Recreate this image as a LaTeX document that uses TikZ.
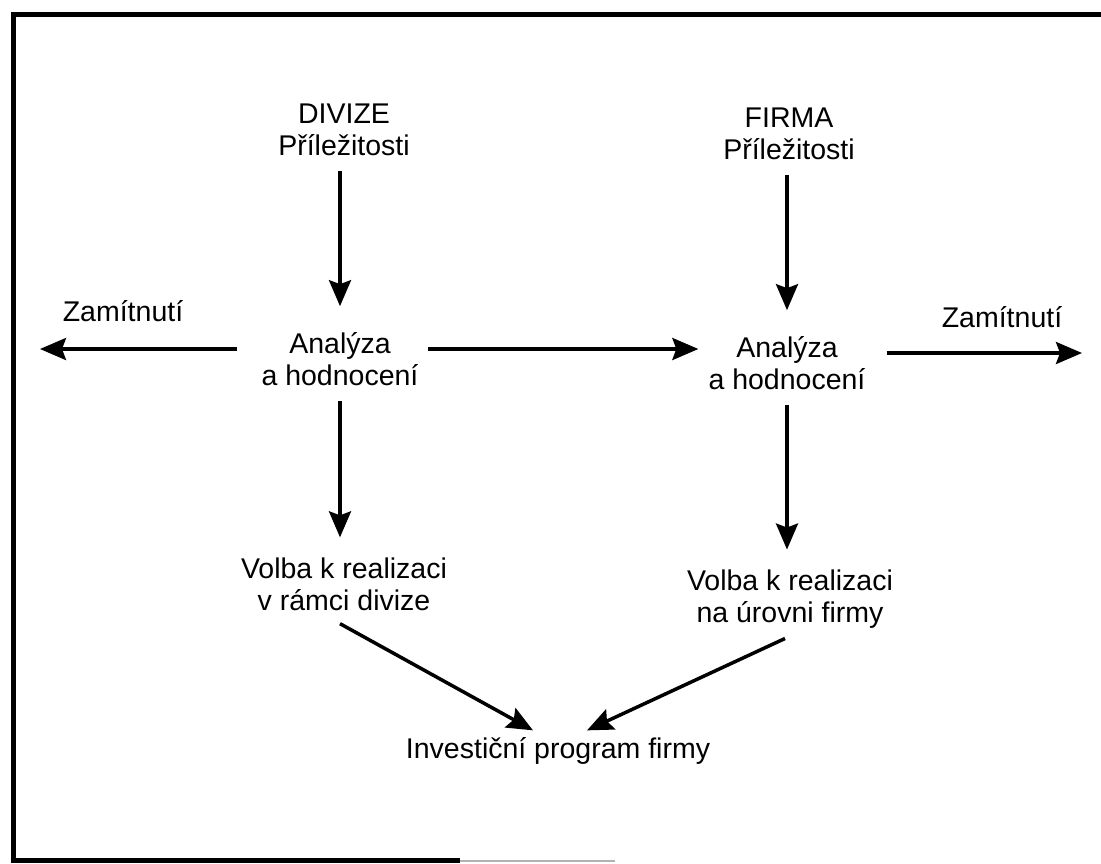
\documentclass[tikz,border=0pt]{standalone}
\usepackage{fontspec}
\setmainfont{Liberation Sans}
\usetikzlibrary{arrows.meta}

\begin{document}
\begin{tikzpicture}[x=1pt,y=-1pt,
  lbl/.style={align=center,inner sep=0pt,font=\fontsize{28.5}{32}\selectfont},
  arr/.style={line width=3.5pt,-{Stealth[length=26pt,width=22pt,inset=4pt]}}]
\useasboundingbox (0,0) rectangle (1101,863);

% frame
\draw[line width=5pt] (1101,14) -- (13,14) -- (13,860) -- (460,860);
\draw[line width=2.5pt,gray!60] (460,861) -- (615,861);

\node[lbl] (dp) at (344,130) {DIVIZE\\Příležitosti};
\node[lbl] (fp) at (789,134) {FIRMA\\Příležitosti};
\node[lbl] (da) at (340,359) {Analýza\\a hodnocení};
\node[lbl] (fa) at (787,363) {Analýza\\a hodnocení};
\node[lbl] (dv) at (344,584) {Volba k realizaci\\v rámci divize};
\node[lbl] (fv) at (790,599) {Volba k realizaci\\na úrovni firmy};
\node[lbl] (inv) at (558,751) {Investiční program firmy};
\node[lbl] (zl) at (123,311) {Zamítnutí};
\node[lbl] (zr) at (1002,317) {Zamítnutí};
\coordinate (zlend) at (40,349);
\coordinate (zrend) at (1082,353);

\draw[arr,shorten <=15pt,shorten >=26pt] (dp.south -| da) -- (da.north);
\draw[arr,shorten <=15pt,shorten >=26pt] (fp.south -| fa) -- (fa.north);
\draw[arr,shorten <=15pt,shorten >=20pt] (da.south) -- (da.south |- dv.north);
\draw[arr,shorten <=15pt,shorten >=20pt] (fa.south) -- (fa.south |- fv.north);

\draw[arr,shorten <=24pt] (da.west |- zlend) -- (zlend);
\draw[arr,shorten <=9pt,shorten >=10pt] (da.east |- zlend) -- (fa.west |- zlend);
\draw[arr,shorten <=21pt] (fa.east |- zrend) -- (zrend);

\draw[arr] ([xshift=-4pt,yshift=-13pt]dv.south) -- ([xshift=-25pt,yshift=7pt]inv.north);
\draw[arr] ([xshift=-5pt,yshift=-10pt]fv.south) -- ([xshift=29pt,yshift=7pt]inv.north);

\end{tikzpicture}
\end{document}
